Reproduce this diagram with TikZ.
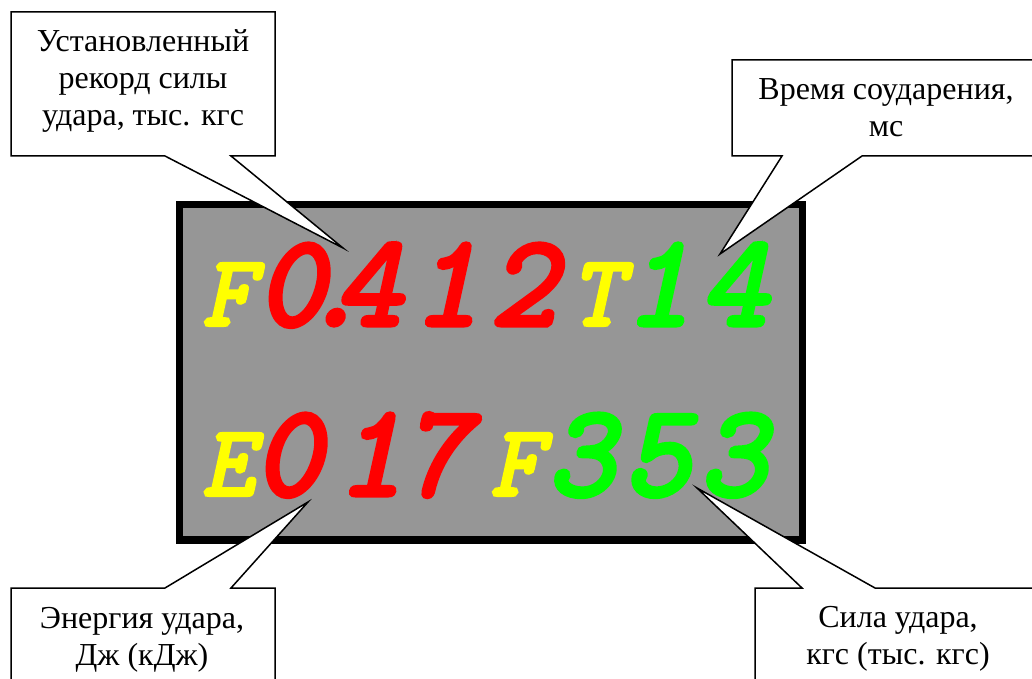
\documentclass[tikz,border=0pt]{standalone}
\usepackage{fontspec}
\setmainfont{Liberation Serif}
\newfontfamily\lcdfont{Latin Modern Mono}[FakeSlant=0.22, FakeBold=4]
\definecolor{panelgray}{RGB}{150,150,150}
\definecolor{lcdred}{RGB}{255,0,0}
\definecolor{lcdgreen}{RGB}{0,255,0}
\definecolor{lcdyellow}{RGB}{255,255,0}
\begin{document}
\begin{tikzpicture}[x=1pt,y=-1pt,
  panelbox/.style={draw=black, line width=7.5pt, fill=panelgray, inner sep=0pt,
    minimum width=623pt, minimum height=335.5pt},
  digitglyph/.style={font={\fontsize{130}{130}\selectfont\lcdfont},
    inner sep=0pt, anchor=base},
  tagglyph/.style={font={\fontsize{100}{100}\selectfont\lcdfont},
    inner sep=0pt, anchor=base, text=lcdyellow},
  callout/.style={draw=black, fill=white, line width=1.5pt, line join=miter},
  calloutlabel/.style={font={\fontsize{32}{37}\selectfont}, inner sep=0pt, anchor=base}]
\useasboundingbox (0,0) rectangle (1032,679);
\clip (0,0) rectangle (1032,679);

% indicator panel
\node[panelbox] (panel) at (491,372.25) {};

% upper row: F0.412 T14
\node[tagglyph] (rowAtagF) at (228,325) {F};
\node[digitglyph, text=lcdred] (rowAd1) at (291,325) {0};
\node[digitglyph, text=lcdred] (rowAdot) at (334,325) {.};
\node[digitglyph, text=lcdred] (rowAd2) at (368,325) {4};
\node[digitglyph, text=lcdred] (rowAd3) at (446,325) {1};
\node[digitglyph, text=lcdred] (rowAd4) at (523,325) {2};
\node[tagglyph] (rowAtagT) at (596,325) {T};
\node[digitglyph, text=lcdgreen] (rowAd5) at (658,325) {1};
\node[digitglyph, text=lcdgreen] (rowAd6) at (734,325) {4};

% lower row: E017 F353
\node[tagglyph] (rowBtagE) at (228,495) {E};
\node[digitglyph, text=lcdred] (rowBd1) at (288,495) {0};
\node[digitglyph, text=lcdred] (rowBd2) at (370,495) {1};
\node[digitglyph, text=lcdred] (rowBd3) at (435,495) {7};
\node[tagglyph] (rowBtagF) at (516,495) {F};
\node[digitglyph, text=lcdgreen] (rowBd4) at (581,495) {3};
\node[digitglyph, text=lcdgreen] (rowBd5) at (657,495) {5};
\node[digitglyph, text=lcdgreen] (rowBd6) at (733,495) {3};

% callout tips
\coordinate (tipRecord) at (343,248);
\coordinate (tipTime) at (720,254);
\coordinate (tipEnergy) at (308,502);
\coordinate (tipForce) at (697,488);

% callout balloons
\draw[callout] (11,12) -- (275,12) -- (275,156) -- (231,156) -- (tipRecord)
  -- (165,156) -- (11,156) -- cycle;
\draw[callout] (732,60) -- (1045,60) -- (1045,156) -- (862,156) -- (tipTime)
  -- (782,156) -- (732,156) -- cycle;
\draw[callout] (11,588) -- (165,588) -- (tipEnergy) -- (231,588) -- (275,588)
  -- (275,695) -- (11,695) -- cycle;
\draw[callout] (755,588) -- (802,588) -- (tipForce) -- (875,588) -- (1045,588)
  -- (1045,695) -- (755,695) -- cycle;

% callout texts
\node[calloutlabel] (lblRecord) at (143,52)
  {\begin{tabular}[t]{@{}c@{}}Установленный\\рекорд силы\\удара, тыс. кгс\end{tabular}};
\node[calloutlabel] (lblTime) at (886,100)
  {\begin{tabular}[t]{@{}c@{}}Время соударения,\\мс\end{tabular}};
\node[calloutlabel] (lblEnergy) at (142,628)
  {\begin{tabular}[t]{@{}c@{}}Энергия удара,\\Дж (кДж)\end{tabular}};
\node[calloutlabel] (lblForce) at (898,627)
  {\begin{tabular}[t]{@{}c@{}}Сила удара,\\кгс (тыс. кгс)\end{tabular}};
\end{tikzpicture}
\end{document}
